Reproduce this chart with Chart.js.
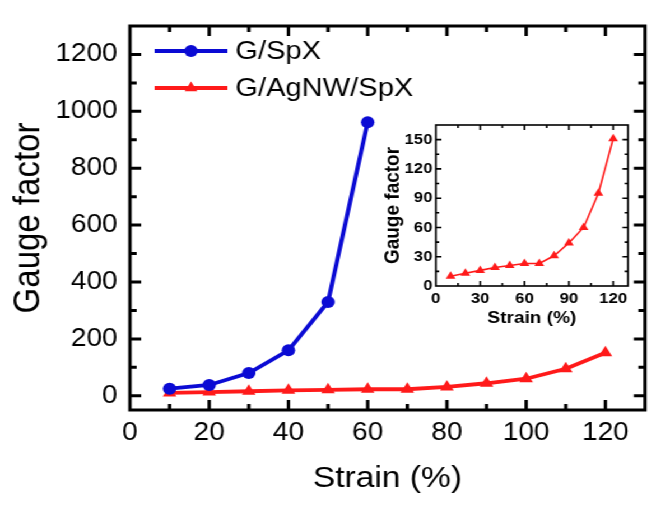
<!DOCTYPE html>
<html>
<head>
<meta charset="utf-8">
<script src="https://cdn.jsdelivr.net/npm/chart.js@4.4.1/dist/chart.umd.min.js"></script>
<style>
    body { margin: 0; background: #fff; overflow: hidden; }
    #wrap { position: absolute; left: 0; top: 0; width: 598px; height: 508px; transform: scaleX(1.1204); transform-origin: 0 0; }
    #mainChart { position: absolute; left: 0; top: 0; }
    #insetChart { position: absolute; left: 339px; top: 113px; }
</style>
</head>
<body>
<div id="wrap">
    <canvas id="mainChart" width="598" height="508"></canvas>
    <canvas id="insetChart" width="228" height="221"></canvas>
</div>
<script>
const strainSpX = [10, 20, 30, 40, 50, 60];
const gaugeSpX = [25, 38, 80, 160, 330, 962];
const strainAgNW = [10, 20, 30, 40, 50, 60, 70, 80, 90, 100, 110, 120];
const gaugeAgNW = [10, 13, 16, 19, 21, 23, 23, 31, 44, 60, 95, 151];

const mainXTicks = [0, 20, 40, 60, 80, 100, 120];
const mainYTicks = [0, 200, 400, 600, 800, 1000, 1200];
const insetXTicks = [0, 30, 60, 90, 120];
const insetYTicks = [0, 30, 60, 90, 120, 150];

const seriesNames = ['G/SpX', 'G/AgNW/SpX'];
const blue = '#0b0bd4';
const red = '#ff1a1a';
const family = "'Liberation Sans', Arial, sans-serif";

function toPoints(xs, ys) {
    return xs.map(function (x, i) { return { x: x, y: ys[i] }; });
}

function fixTicks(values) {
    return function (scale) {
        scale.ticks = values.map(function (v) { return { value: v }; });
    };
}

function plain(v) {
    return String(v);
}

function marker(ctx, style, x, y, r, color) {
    ctx.fillStyle = color;
    ctx.beginPath();
    if (style === 'circle') {
        ctx.arc(x, y, r, 0, Math.PI * 2);
    } else {
        for (var k = 0; k < 3; k++) {
            var ang = k * Math.PI * 2 / 3;
            var px = x + Math.sin(ang) * r, py = y - Math.cos(ang) * r;
            if (k === 0) ctx.moveTo(px, py); else ctx.lineTo(px, py);
        }
        ctx.closePath();
    }
    ctx.fill();
}

// box round the plot area with inward major / minor ticks on all four sides
function makeFrame(cfg) {
    return {
        id: 'frame' + cfg.name,
        afterDraw: function (chart) {
            var ctx = chart.ctx, area = chart.chartArea;
            var xs = chart.scales.x, ys = chart.scales.y;
            ctx.save();
            ctx.strokeStyle = '#000';
            ctx.lineWidth = cfg.width;
            ctx.beginPath();
            function marks(scale, step, horiz) {
                var majors = scale.ticks.map(function (t) { return t.value; });
                var start = Math.ceil(scale.min / step) * step;
                for (var v = start; v < scale.max - 1e-9; v += step) {
                    if (v <= scale.min) continue;
                    var len = majors.indexOf(v) >= 0 ? cfg.major : cfg.minor;
                    var p = scale.getPixelForValue(v);
                    if (horiz) {
                        ctx.moveTo(p, area.bottom); ctx.lineTo(p, area.bottom - len);
                        ctx.moveTo(p, area.top); ctx.lineTo(p, area.top + len);
                    } else {
                        ctx.moveTo(area.left, p); ctx.lineTo(area.left + len, p);
                        ctx.moveTo(area.right, p); ctx.lineTo(area.right - len, p);
                    }
                }
            }
            marks(xs, cfg.xStep, true);
            marks(ys, cfg.yStep, false);
            ctx.stroke();
            ctx.strokeRect(area.left, area.top, area.right - area.left, area.bottom - area.top);
            ctx.restore();
        }
    };
}

const lineLegend = {
    id: 'lineLegend',
    afterDraw: function (chart) {
        var ctx = chart.ctx;
        var ys = [51, 88], radius = [6, 6.5];
        ctx.save();
        chart.data.datasets.forEach(function (ds, i) {
            var y = ys[i];
            ctx.strokeStyle = ds.borderColor;
            ctx.lineWidth = ds.borderWidth;
            ctx.beginPath();
            ctx.moveTo(138, y);
            ctx.lineTo(203, y);
            ctx.stroke();
            marker(ctx, ds.pointStyle, 170.5, y, radius[i], ds.borderColor);
            ctx.fillStyle = '#000';
            ctx.font = '26px ' + family;
            ctx.textBaseline = 'middle';
            ctx.fillText(ds.label, 210, y + 1);
        });
        ctx.restore();
    }
};

new Chart(document.getElementById('mainChart'), {
    type: 'line',
    data: {
        datasets: [
            {
                label: seriesNames[0],
                data: toPoints(strainSpX, gaugeSpX),
                borderColor: blue,
                backgroundColor: blue,
                borderWidth: 3.8,
                pointStyle: 'circle',
                pointRadius: 6,
                pointBorderWidth: 0
            },
            {
                label: seriesNames[1],
                data: toPoints(strainAgNW, gaugeAgNW),
                borderColor: red,
                backgroundColor: red,
                borderWidth: 3.8,
                pointStyle: 'triangle',
                pointRadius: 7,
                pointBorderWidth: 0
            }
        ]
    },
    options: {
        responsive: false,
        animation: false,
        layout: { padding: { left: 0, top: 19, right: 22.3, bottom: 0 } },
        plugins: {
            legend: { display: false },
            tooltip: { enabled: false }
        },
        scales: {
            x: {
                type: 'linear',
                min: 0,
                max: 130,
                afterBuildTicks: fixTicks(mainXTicks),
                afterFit: function (s) { s.height = 98; },
                grid: { display: false, drawTicks: false },
                border: { display: false },
                ticks: { color: '#000', padding: 8, callback: plain, font: { family: family, size: 25 } },
                title: { display: true, text: 'Strain (%)', color: '#000', font: { family: family, size: 30 }, padding: { top: 0, bottom: 11 } }
            },
            y: {
                type: 'linear',
                min: -50,
                max: 1300,
                afterBuildTicks: fixTicks(mainYTicks),
                afterFit: function (s) { s.width = 116; },
                grid: { display: false, drawTicks: false },
                border: { display: false },
                ticks: { color: '#000', padding: 11, callback: plain, font: { family: family, size: 25 } },
                title: { display: true, text: 'Gauge factor', color: '#000', font: { family: family, size: 33 }, padding: { top: 6, bottom: 0 } }
            }
        }
    },
    plugins: [makeFrame({ name: 'Main', width: 3, major: 10, minor: 6, xStep: 10, yStep: 100 }), lineLegend]
});

new Chart(document.getElementById('insetChart'), {
    type: 'line',
    data: {
        datasets: [
            {
                label: seriesNames[1],
                data: toPoints(strainAgNW, gaugeAgNW),
                borderColor: red,
                backgroundColor: red,
                borderWidth: 1.6,
                pointStyle: 'triangle',
                pointRadius: 5,
                pointBorderWidth: 0
            }
        ]
    },
    options: {
        responsive: false,
        animation: false,
        layout: { padding: { left: 0, top: 12, right: 6.5, bottom: 0 } },
        plugins: {
            legend: { display: false },
            tooltip: { enabled: false }
        },
        scales: {
            x: {
                type: 'linear',
                min: 0,
                max: 130,
                afterBuildTicks: fixTicks(insetXTicks),
                afterFit: function (s) { s.height = 48; },
                grid: { display: false, drawTicks: false },
                border: { display: false },
                ticks: { color: '#000', padding: 4, callback: plain, font: { family: family, size: 15, weight: 'bold' } },
                title: { display: true, text: 'Strain (%)', color: '#000', font: { family: family, size: 17, weight: 'bold' }, padding: { top: 0, bottom: 5 } }
            },
            y: {
                type: 'linear',
                min: 0,
                max: 165,
                afterBuildTicks: fixTicks(insetYTicks),
                afterFit: function (s) { s.width = 50; },
                grid: { display: false, drawTicks: false },
                border: { display: false },
                ticks: { color: '#000', padding: 3, callback: plain, font: { family: family, size: 15, weight: 'bold' } },
                title: { display: true, text: 'Gauge factor', color: '#000', font: { family: family, size: 19, weight: 'bold' }, padding: { top: 0, bottom: 0 } }
            }
        }
    },
    plugins: [makeFrame({ name: 'Inset', width: 1.6, major: 5, minor: 3, xStep: 15, yStep: 15 })]
});
</script>
</body>
</html>
